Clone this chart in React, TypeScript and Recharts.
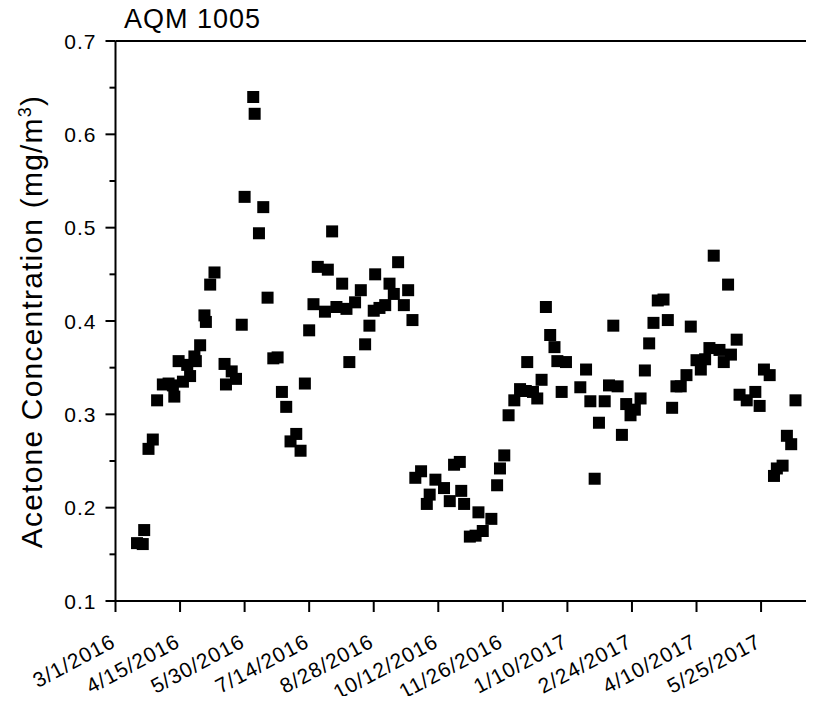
import { ScatterChart, Scatter, XAxis, YAxis } from 'recharts';

// days since 3/1/2016 and acetone concentration (mg/m3)
const days = [
  15, 19, 20, 23, 26, 29, 33, 37, 40, 41, 44, 47, 50, 52, 55, 56, 59, 62, 63, 66,
  69, 76, 77, 81, 84, 88, 90, 96, 97, 100, 103, 106, 110, 113, 116, 119, 122, 126, 129, 132,
  135, 138, 141, 146, 148, 151, 154, 158, 161, 163, 167, 171, 174, 177, 180, 181, 184, 188, 191, 194,
  197, 201, 204, 207, 209, 213, 217, 219, 223, 229, 233, 236, 240, 241, 243, 247, 251, 253, 256, 262,
  266, 268, 271, 274, 278, 282, 286, 287, 291, 294, 297, 300, 303, 306, 308, 311, 314, 324, 328, 331,
  334, 337, 341, 344, 347, 350, 353, 356, 359, 362, 366, 369, 372, 375, 378, 382, 385, 388, 391, 394,
  398, 401, 405, 408, 411, 414, 417, 421, 424, 427, 429, 433, 435, 440, 446, 449, 452, 456, 459, 461,
  465, 468, 471, 474,
];
const conc = [
  0.162, 0.161, 0.176, 0.263, 0.273, 0.315, 0.332, 0.333, 0.331, 0.319, 0.357, 0.335, 0.353, 0.341, 0.362, 0.357, 0.374, 0.406, 0.399, 0.439,
  0.452, 0.354, 0.332, 0.346, 0.338, 0.396, 0.533, 0.640, 0.622, 0.494, 0.522, 0.425, 0.360, 0.361, 0.324, 0.308, 0.271, 0.279, 0.261, 0.333,
  0.390, 0.418, 0.458, 0.410, 0.455, 0.496, 0.415, 0.440, 0.413, 0.356, 0.420, 0.433, 0.375, 0.395, 0.411, 0.450, 0.414, 0.417, 0.440, 0.429,
  0.463, 0.417, 0.433, 0.401, 0.232, 0.239, 0.204, 0.214, 0.230, 0.221, 0.207, 0.246, 0.249, 0.218, 0.204, 0.169, 0.170, 0.195, 0.175, 0.188,
  0.224, 0.242, 0.256, 0.299, 0.315, 0.327, 0.325, 0.356, 0.324, 0.317, 0.337, 0.415, 0.385, 0.372, 0.357, 0.324, 0.356, 0.329, 0.348, 0.314,
  0.231, 0.291, 0.314, 0.331, 0.395, 0.330, 0.278, 0.311, 0.299, 0.305, 0.317, 0.347, 0.376, 0.398, 0.422, 0.423, 0.401, 0.307, 0.330, 0.330,
  0.342, 0.394, 0.358, 0.348, 0.359, 0.371, 0.470, 0.369, 0.356, 0.439, 0.364, 0.380, 0.321, 0.315, 0.324, 0.309, 0.348, 0.342, 0.234, 0.242,
  0.245, 0.277, 0.268, 0.315,
];

const xTicks = [0, 45, 90, 135, 180, 225, 270, 315, 360, 405, 450];
const xTickLabels = [
  '3/1/2016', '4/15/2016', '5/30/2016', '7/14/2016', '8/28/2016', '10/12/2016',
  '11/26/2016', '1/10/2017', '2/24/2017', '4/10/2017', '5/25/2017',
];
const yTicks = [0.1, 0.15, 0.2, 0.25, 0.3, 0.35, 0.4, 0.45, 0.5, 0.55, 0.6, 0.65, 0.7];

const data = days.map((d, i) => ({ day: d, conc: conc[i] }));

const FONT = '"Liberation Sans", Arial, Helvetica, sans-serif';

const DateTick = (props: any) => {
  const { x, y, payload } = props;
  const tx = x + 1.5;
  const ty = y + 34;
  const label = xTickLabels[xTicks.indexOf(payload.value)];
  return (
    <text x={tx} y={ty} transform={`rotate(-28, ${tx}, ${ty})`} textAnchor="end"
      fontSize={21} letterSpacing={1} fontFamily={FONT} fill="#000">
      {label}
    </text>
  );
};

const ConcTick = (props: any) => {
  const { x, y, payload } = props;
  const ax = x + 19; // tickSize 10 + tickMargin 9
  const major = Math.round(payload.value * 100) % 10 === 0;
  return (
    <g>
      <line x1={ax - (major ? 10 : 6)} x2={ax} y1={y} y2={y} stroke="#000" strokeWidth={2} />
      {major && (
        <text x={x} y={y} dy="0.36em" textAnchor="end" fontSize={21} letterSpacing={1}
          fontFamily={FONT} fill="#000">
          {payload.value.toFixed(1)}
        </text>
      )}
    </g>
  );
};

const YLabel = (props: any) => {
  const { viewBox } = props;
  const cx = 42;
  const cy = viewBox.y + viewBox.height / 2 + 0.5;
  return (
    <text x={cx} y={cy} transform={`rotate(-90, ${cx}, ${cy})`} textAnchor="middle"
      fontSize={30} letterSpacing={1.2} fontFamily={FONT} fill="#000">
      Acetone Concentration (mg/m
      <tspan dy={-11} fontSize={18}>3</tspan>
      <tspan dy={11}>)</tspan>
    </text>
  );
};

const Title = () => (
  <text x={124} y={28} fontSize={27} letterSpacing={1} fontFamily={FONT} fill="#000">
    AQM 1005
  </text>
);

const Square = (props: any) => (
  <rect x={props.cx - 6} y={props.cy - 6} width={12} height={12} fill="#000" />
);

const NoMark = () => null;

export default function App() {
  return (
    <div style={{ margin: -8, width: 814, height: 704, background: '#fff' }}>
      <ScatterChart width={814} height={704} margin={{ top: 40, right: 1, left: 8, bottom: 0 }}>
        <XAxis xAxisId={0} type="number" dataKey="day" domain={[0, 485.5]} ticks={xTicks}
          height={103} tickSize={11} tickMargin={0} tick={<DateTick />}
          axisLine={{ stroke: '#000', strokeWidth: 2 }} tickLine={{ stroke: '#000', strokeWidth: 2 }} />
        <XAxis xAxisId="top" orientation="top" type="number" dataKey="day" domain={[0, 485.5]}
          ticks={xTicks} height={1} tickSize={-3} tick={false}
          axisLine={{ stroke: '#000', strokeWidth: 2 }} tickLine={{ stroke: '#000', strokeWidth: 1.5 }}
          label={<Title />} />
        <YAxis yAxisId={0} type="number" dataKey="conc" domain={[0.1, 0.7]} ticks={yTicks}
          width={107.5} tickSize={10} tickMargin={9} tickLine={false} tick={<ConcTick />}
          axisLine={{ stroke: '#000', strokeWidth: 2 }} label={<YLabel />} />
        <YAxis yAxisId="right" orientation="right" type="number" dataKey="conc" domain={[0.1, 0.7]}
          ticks={yTicks} width={1} tickSize={-3} tick={false}
          axisLine={{ stroke: '#000', strokeWidth: 2 }} tickLine={{ stroke: '#000', strokeWidth: 1.5 }} />
        {/* frame-only series so the top and right axes get drawn */}
        <Scatter data={data} xAxisId="top" yAxisId="right" shape={<NoMark />}
          isAnimationActive={false} />
        <Scatter data={data} xAxisId={0} yAxisId={0} fill="#000" shape={<Square />}
          isAnimationActive={false} />
      </ScatterChart>
    </div>
  );
}
